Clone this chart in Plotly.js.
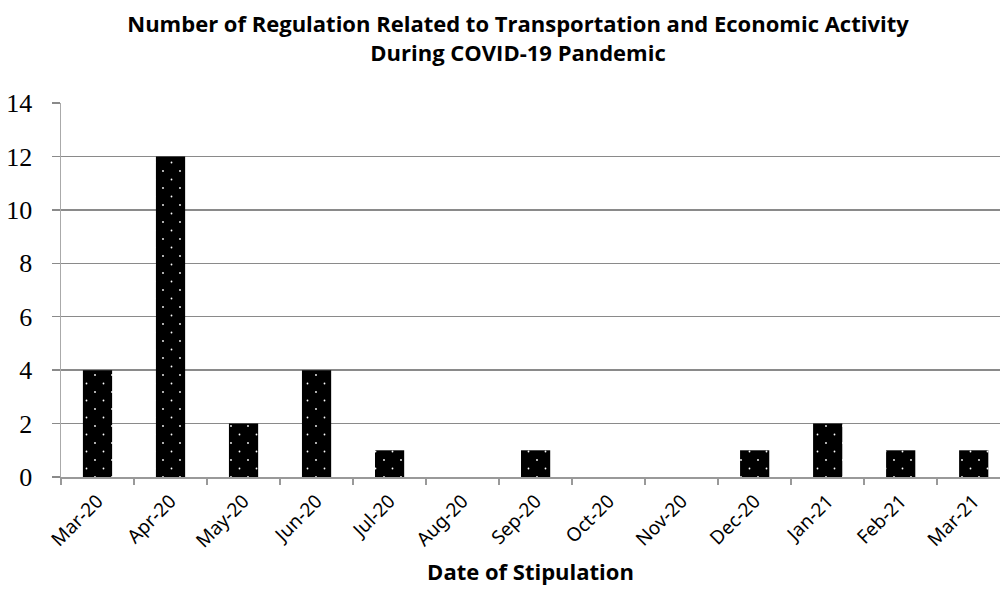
<!DOCTYPE html>
<html>
<head>
<meta charset="utf-8">
<script src="https://cdn.plot.ly/plotly-3.0.1.min.js"></script>
<style>
  html, body { margin: 0; padding: 0; background: #ffffff; }
  #chart { width: 1000px; height: 593px; }
</style>
</head>
<body>
<div id="chart"></div>
<script>
// Monthly count of regulations issued
const months = ['Mar-20', 'Apr-20', 'May-20', 'Jun-20', 'Jul-20', 'Aug-20', 'Sep-20',
                'Oct-20', 'Nov-20', 'Dec-20', 'Jan-21', 'Feb-21', 'Mar-21'];
const regulationCounts = [4, 12, 2, 4, 1, 0, 1, 0, 0, 1, 2, 1, 1];
const yTicks = [0, 2, 4, 6, 8, 10, 12, 14];

const DOT_TILE = 17;

const trace = {
  type: 'bar',
  x: months,
  y: regulationCounts,
  width: 0.4,
  marker: {
    color: '#000000',
    line: { width: 0 },
    pattern: {
      shape: '.',
      fillmode: 'replace',
      bgcolor: '#000000',
      fgcolor: '#ffffff',
      size: DOT_TILE,
      solidity: 0.01
    }
  },
  hoverinfo: 'x+y'
};

const layout = {
  width: 1000,
  height: 593,
  paper_bgcolor: '#ffffff',
  plot_bgcolor: '#ffffff',
  margin: { l: 61, r: 0, t: 103, b: 116 },
  showlegend: false,
  title: {
    text: 'Number of Regulation Related to Transportation and Economic Activity<br>During COVID-19 Pandemic',
    font: { family: 'Open Sans, sans-serif', size: 22, color: '#000000', weight: 'bold' },
    xref: 'container',
    yref: 'container',
    x: 0.518,
    xanchor: 'center',
    y: 0.946,
    yanchor: 'top'
  },
  xaxis: {
    type: 'category',
    range: [-0.5, 12.36],
    tickangle: -45,
    tickfont: { family: 'Noto Sans, sans-serif', size: 19, color: '#000000' },
    ticks: 'outside',
    ticklen: 6,
    tickcolor: '#999999',
    tickwidth: 1.5,
    tickson: 'boundaries',
    ticklabelstandoff: 4,
    showline: true,
    linecolor: '#999999',
    linewidth: 1.5,
    showgrid: false,
    zeroline: false,
    title: {
      text: 'Date of Stipulation',
      font: { family: 'Open Sans, sans-serif', size: 22, color: '#000000', weight: 'bold' },
      standoff: 12
    }
  },
  yaxis: {
    range: [0, 14],
    tickvals: yTicks,
    ticktext: yTicks.map(String),
    tickfont: { family: 'Liberation Serif, serif', size: 26, color: '#000000' },
    ticks: 'outside',
    ticklen: 8,
    tickcolor: '#8a8a8a',
    tickwidth: 1.5,
    ticklabelstandoff: 14,
    showline: true,
    linecolor: '#aaaaaa',
    linewidth: 1.5,
    showgrid: true,
    gridcolor: '#8a8a8a',
    gridwidth: 1.5,
    zeroline: false
  }
};

// Turn the square dot grid of the bar fill into a staggered (diamond) dot lattice
// by adding a dot at every corner of each pattern tile.
function staggerDots(gd) {
  const ns = 'http://www.w3.org/2000/svg';
  gd.querySelectorAll('defs pattern').forEach(function (pat) {
    const circle = pat.querySelector('circle');
    if (!circle) return;
    const w = parseFloat(pat.getAttribute('width')) || DOT_TILE;
    const h = parseFloat(pat.getAttribute('height')) || DOT_TILE;
    const r = 0.9;
    circle.setAttribute('r', r);
    [[0, 0], [w, 0], [0, h], [w, h]].forEach(function (p) {
      const c = document.createElementNS(ns, 'circle');
      c.setAttribute('cx', p[0]);
      c.setAttribute('cy', p[1]);
      c.setAttribute('r', r);
      c.setAttribute('fill', '#ffffff');
      pat.appendChild(c);
    });
  });
}

Plotly.newPlot('chart', [trace], layout, { displayModeBar: false, staticPlot: true })
  .then(staggerDots);
</script>
</body>
</html>
